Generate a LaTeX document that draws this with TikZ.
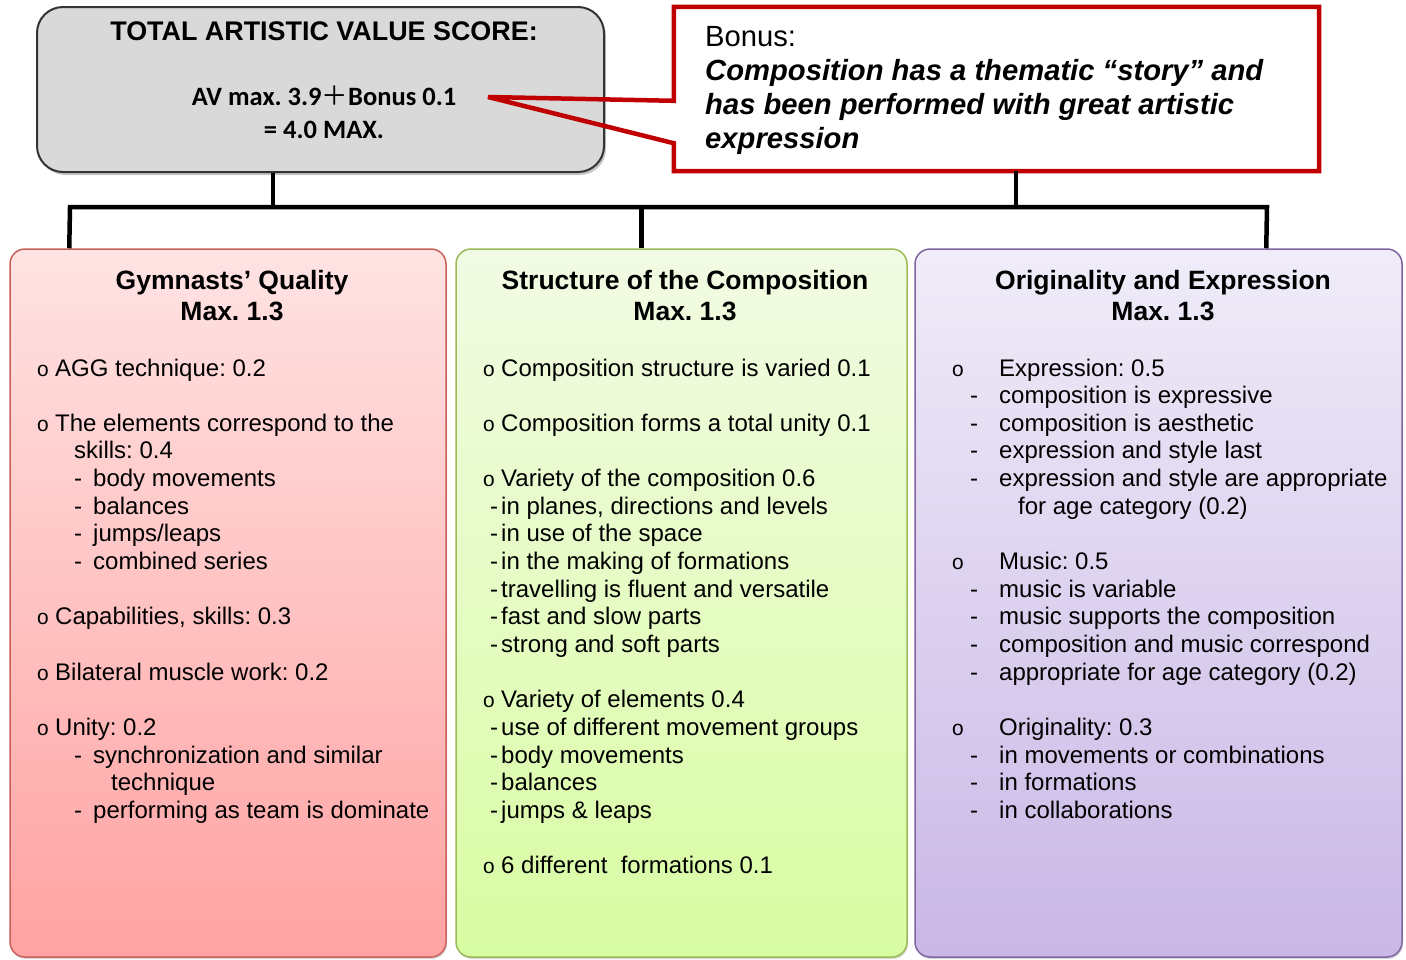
\documentclass[tikz,border=0pt]{standalone}
\usepackage{fontspec}
\setmainfont{Liberation Sans}
\setmonofont{Liberation Mono}
\newfontfamily\calibri{Carlito}
\newfontfamily\cjkfont{Noto Sans CJK SC}
\usetikzlibrary{shadows}
\frenchspacing
\definecolor{redB}{HTML}{C9605C}
\definecolor{redT}{HTML}{FFE3E3}
\definecolor{redBt}{HTML}{FFA2A2}
\definecolor{grnB}{HTML}{9BBB59}
\definecolor{grnT}{HTML}{F2FBE4}
\definecolor{grnBt}{HTML}{D8FCA2}
\definecolor{purB}{HTML}{8064A2}
\definecolor{purT}{HTML}{F0ECF8}
\definecolor{purBt}{HTML}{C9B7E6}
\definecolor{callred}{HTML}{C00000}
\definecolor{topgray}{HTML}{D9D9D9}
\newcommand\tline[4]{\node[tline] (#1) at (#2,{376+27.65*(#3)}) {#4};}
\newcommand\bmark[3]{\node[bmark] (#1) at (#2,{376+27.65*(#3)}) {o};}
\newcommand\dmark[3]{\node[dmark] (#1) at (#2,{376+27.65*(#3)}) {-};}
\begin{document}
\begin{tikzpicture}[x=1pt,y=-1pt,
  tline/.style={anchor=base west, inner sep=0pt, font=\frenchspacing\fontsize{24}{27.65}\selectfont},
  bmark/.style={anchor=base, inner sep=0pt, font=\ttfamily\fontsize{21}{24}\selectfont},
  dmark/.style={anchor=base, inner sep=0pt, font=\fontsize{24}{27.65}\selectfont},
  coltitle/.style={anchor=base, inner sep=0pt, font=\bfseries\fontsize{26.5}{31}\selectfont},
  colbox/.style={rectangle, rounded corners=15pt, line width=1.5pt,
     drop shadow={shadow xshift=1pt, shadow yshift=-2pt, opacity=0.3}},
  topbox/.style={rectangle, rounded corners=26pt, line width=2pt, draw=black!80, fill=topgray,
     drop shadow={shadow xshift=2pt, shadow yshift=-3pt, opacity=0.45}},
  conn/.style={line width=4.5pt, black, line join=miter},
  calltxt/.style={anchor=base west, inner sep=0pt, font=\fontsize{29.2}{34}\selectfont},
  callbi/.style={calltxt, font=\bfseries\itshape\fontsize{29.2}{34}\selectfont},
  tbtxt/.style={anchor=base, inner sep=0pt, font=\frenchspacing\calibri\bfseries\fontsize{26.5}{33}\selectfont}
]
\useasboundingbox (0,0) rectangle (1406,959);

% ---------- top box ----------
\node[topbox, minimum width=567pt, minimum height=165pt] (tb) at (320.5,89.5) {};
\node[anchor=base, inner sep=0pt, font=\bfseries\fontsize{26.9}{30}\selectfont] (tbtitle) at (324,40.5) {TOTAL ARTISTIC VALUE SCORE:};
\node[tbtxt] (tbav) at (324,105) {AV max. 3.9{\cjkfont\mdseries ＋}Bonus 0.1};
\node[tbtxt] (tbmax) at (324,138) {= 4.0 MAX.};

% ---------- callout ----------
\node[rectangle, minimum width=645pt, minimum height=164pt, inner sep=0pt] (bonus) at (996.5,89) {};
\coordinate (tip) at (488,97);
\draw[line width=4.5pt, callred, line join=miter, miter limit=4]
  (bonus.north west) -- (bonus.north east) -- (bonus.south east) -- (bonus.south west)
  -- ([yshift=28pt]bonus.south west) -- (tip) -- ([yshift=-94pt]bonus.north west) -- cycle;
\node[calltxt] (bon1) at (705,46) {Bonus:};
\node[callbi] (bon2) at (705,80) {Composition has a thematic “story” and};
\node[callbi] (bon3) at (705,114) {has been performed with great artistic};
\node[callbi] (bon4) at (705,148) {expression};

% ---------- columns ----------
\node[colbox, draw=redB, top color=redT, bottom color=redBt, minimum width=436pt, minimum height=708pt] (c1) at (228,603) {};
\node[colbox, draw=grnB, top color=grnT, bottom color=grnBt, minimum width=451pt, minimum height=708pt] (c2) at (681.5,603) {};
\node[colbox, draw=purB, top color=purT, bottom color=purBt, minimum width=487pt, minimum height=708pt] (c3) at (1158.5,603) {};

% ---------- connectors ----------
\coordinate (barL) at (70,207);
\coordinate (barR) at (1267,207);
\coordinate (tbb) at ([xshift=237pt]tb.south west);
\coordinate (bnb) at ([xshift=342pt]bonus.south west);
\coordinate (c2top) at ([xshift=186pt]c2.north west);
\draw[conn] ([xshift=60pt]c1.north west) -- (barL) -- (barR) -- ([xshift=352pt]c3.north west);
\draw[conn] (tbb) -- (tbb |- barL);
\draw[conn] (bnb) -- (bnb |- barL);
\draw[conn] (c2top) -- (c2top |- barL);

% ---------- column 1 ----------
\node[coltitle] (t1a) at (232,289) {Gymnasts’ Quality};
\node[coltitle] (t1b) at (232,320) {Max. 1.3};
\bmark{a0b}{43}{0}\tline{a0}{55}{0}{AGG technique: 0.2}
\bmark{a2b}{43}{2}\tline{a2}{55}{2}{The elements correspond to the}
\tline{a3}{74}{3}{skills: 0.4}
\dmark{a4b}{78}{4}\tline{a4}{93}{4}{body movements}
\dmark{a5b}{78}{5}\tline{a5}{93}{5}{balances}
\dmark{a6b}{78}{6}\tline{a6}{93}{6}{jumps/leaps}
\dmark{a7b}{78}{7}\tline{a7}{93}{7}{combined series}
\bmark{a9b}{43}{9}\tline{a9}{55}{9}{Capabilities, skills: 0.3}
\bmark{a11b}{43}{11}\tline{a11}{55}{11}{Bilateral muscle work: 0.2}
\bmark{a13b}{43}{13}\tline{a13}{55}{13}{Unity: 0.2}
\dmark{a14b}{78}{14}\tline{a14}{93}{14}{synchronization and similar}
\tline{a15}{111}{15}{technique}
\dmark{a16b}{78}{16}\tline{a16}{93}{16}{performing as team is dominate}

% ---------- column 2 ----------
\node[coltitle] (t2a) at (685,289) {Structure of the Composition};
\node[coltitle] (t2b) at (685,320) {Max. 1.3};
\bmark{b0b}{489}{0}\tline{b0}{501}{0}{Composition structure is varied 0.1}
\bmark{b2b}{489}{2}\tline{b2}{501}{2}{Composition forms a total unity 0.1}
\bmark{b4b}{489}{4}\tline{b4}{501}{4}{Variety of the composition 0.6}
\dmark{b5b}{494}{5}\tline{b5}{501}{5}{in planes, directions and levels}
\dmark{b6b}{494}{6}\tline{b6}{501}{6}{in use of the space}
\dmark{b7b}{494}{7}\tline{b7}{501}{7}{in the making of formations}
\dmark{b8b}{494}{8}\tline{b8}{501}{8}{travelling is fluent and versatile}
\dmark{b9b}{494}{9}\tline{b9}{501}{9}{fast and slow parts}
\dmark{b10b}{494}{10}\tline{b10}{501}{10}{strong and soft parts}
\bmark{b12b}{489}{12}\tline{b12}{501}{12}{Variety of elements 0.4}
\dmark{b13b}{494}{13}\tline{b13}{501}{13}{use of different movement groups}
\dmark{b14b}{494}{14}\tline{b14}{501}{14}{body movements}
\dmark{b15b}{494}{15}\tline{b15}{501}{15}{balances}
\dmark{b16b}{494}{16}\tline{b16}{501}{16}{jumps \& leaps}
\bmark{b18b}{489}{18}\tline{b18}{501}{18}{6 different\ \ formations 0.1}

% ---------- column 3 ----------
\node[coltitle] (t3a) at (1163,289) {Originality and Expression};
\node[coltitle] (t3b) at (1163,320) {Max. 1.3};
\bmark{p0b}{958}{0}\tline{p0}{999}{0}{Expression: 0.5}
\dmark{p1b}{974}{1}\tline{p1}{999}{1}{composition is expressive}
\dmark{p2b}{974}{2}\tline{p2}{999}{2}{composition is aesthetic}
\dmark{p3b}{974}{3}\tline{p3}{999}{3}{expression and style last}
\dmark{p4b}{974}{4}\tline{p4}{999}{4}{expression and style are appropriate}
\tline{p5}{1018}{5}{for age category (0.2)}
\bmark{p7b}{958}{7}\tline{p7}{999}{7}{Music: 0.5}
\dmark{p8b}{974}{8}\tline{p8}{999}{8}{music is variable}
\dmark{p9b}{974}{9}\tline{p9}{999}{9}{music supports the composition}
\dmark{p10b}{974}{10}\tline{p10}{999}{10}{composition and music correspond}
\dmark{p11b}{974}{11}\tline{p11}{999}{11}{appropriate for age category (0.2)}
\bmark{p13b}{958}{13}\tline{p13}{999}{13}{Originality: 0.3}
\dmark{p14b}{974}{14}\tline{p14}{999}{14}{in movements or combinations}
\dmark{p15b}{974}{15}\tline{p15}{999}{15}{in formations}
\dmark{p16b}{974}{16}\tline{p16}{999}{16}{in collaborations}
\end{tikzpicture}
\end{document}
